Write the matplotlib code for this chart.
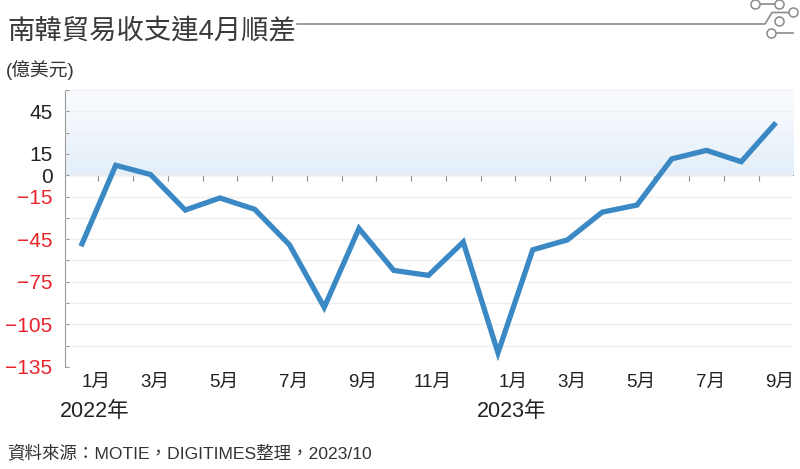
import numpy as np
import matplotlib
matplotlib.use("Agg")
import matplotlib.pyplot as plt
from matplotlib.colors import LinearSegmentedColormap
from matplotlib.lines import Line2D
from matplotlib.transforms import blended_transform_factory

plt.rcParams['font.family'] = ['Liberation Sans', 'Noto Sans CJK TC', 'DejaVu Sans']

# ── 資料 (億美元), 2022/01 ~ 2023/09 ──
months = ['2022-01', '2022-02', '2022-03', '2022-04', '2022-05', '2022-06', '2022-07',
          '2022-08', '2022-09', '2022-10', '2022-11', '2022-12',
          '2023-01', '2023-02', '2023-03', '2023-04', '2023-05', '2023-06', '2023-07',
          '2023-08', '2023-09']
balance = [-50, 7, 0.5, -24.5, -16, -24, -49, -93, -37.5, -67, -70.5, -47,
           -125, -52.5, -45.5, -26, -21, 11.5, 17.5, 9.5, 37]

month_labels = ['1月', '3月', '5月', '7月', '9月', '11月', '1月', '3月', '5月', '7月', '9月']
month_label_idx = [0, 2, 4, 6, 8, 10, 12, 14, 16, 18, 20]
year_labels = ['2022年', '2023年']
year_label_idx = [0, 12]

ytick_labeled = [45, 15, 0, -15, -45, -75, -105, -135]
ygrid = np.arange(-135, 61, 15)

W, H = 800, 469
fig = plt.figure(figsize=(W / 100, H / 100), dpi=100)


def px(x, y):
    return x / W, 1 - y / H


ax = fig.add_axes([65 / W, 1 - 367 / H, (793 - 65) / W, (367 - 90) / H])
x = np.arange(len(months))
xlim = (-0.46, len(months) - 0.51)
ylim = (-135, 60)

# 正值區漸層底色
cmap = LinearSegmentedColormap.from_list('bg', ['#e4eff9', '#fafcff'])
grad = np.linspace(0, 1, 256).reshape(-1, 1)
ax.imshow(grad, extent=(xlim[0], xlim[1], 0, 60), origin='lower', aspect='auto',
          cmap=cmap, zorder=0)

ax.plot(x, balance, color='#3a88c4', lw=3.8, solid_joinstyle='miter',
        solid_capstyle='butt', zorder=3)

ax.set_xlim(*xlim)
ax.set_ylim(*ylim)

# y 軸
ax.set_yticks(ygrid)
ax.set_yticklabels([(f"\u2212{abs(v)}" if v < 0 else str(v)) if v in ytick_labeled else ''
                    for v in ygrid])
for lab, v in zip(ax.get_yticklabels(), ygrid):
    lab.set_color('#e8232b' if v < 0 else '#222222')
ax.tick_params(axis='y', direction='in', length=3, color='#999999', labelsize=15, pad=9)
ax.yaxis.grid(True, color='#efefef', lw=1, zorder=1)
ax.set_axisbelow(False)
for gl in ax.yaxis.get_gridlines():
    gl.set_zorder(1)

# x 軸 (零線)
ax.spines['top'].set_visible(False)
ax.spines['right'].set_visible(False)
ax.spines['bottom'].set_position(('data', 0))
ax.spines['bottom'].set_color('#8c8c8c')
ax.spines['bottom'].set_zorder(2)
ax.spines['left'].set_color('#999999')
ax.set_xticks(np.arange(0.5, len(months) - 0.5, 1))
ax.set_xticklabels([])
ax.tick_params(axis='x', direction='out', length=4, color='#8c8c8c')

tr = blended_transform_factory(ax.transData, fig.transFigure)
for lab, i in zip(month_labels, month_label_idx):
    dx = 0.45 if lab == '1月' else 0.12
    ax.text(i + dx, 1 - 382 / H, lab, transform=tr, ha='center', va='center',
            fontsize=13.5, color='#222222')
for lab, i in zip(year_labels, year_label_idx):
    ax.text(i + 0.4, 1 - 411 / H, lab, transform=tr, ha='center', va='center',
            fontsize=15.5, color='#222222')

# 標題與文字
fig.text(*px(7, 32), '南韓貿易收支連4月順差', fontsize=19.7, va='center', ha='left',
         color='#3a3a3a')
fig.text(*px(6, 70), '(億美元)', fontsize=13.5, va='center', ha='left', color='#333333')
fig.text(*px(7, 453), '資料來源：MOTIE，DIGITIMES整理，2023/10', fontsize=12.6,
         va='center', ha='left', color='#333333')

# 標題右側線條裝飾
deco_c = '#8a8a8a'
segs = [[(297, 24), (765, 24), (772, 12.5), (789, 12.5)],
        [(758, 4), (776, 4)],
        [(774.5, 33), (793, 33)]]
for s in segs:
    xs, ys = zip(*[px(a, b) for a, b in s])
    fig.add_artist(Line2D(xs, ys, color=deco_c, lw=1.2, transform=fig.transFigure))
for cx, cy in [(792.5, 12.5), (755, 4), (779, 4), (779, 21), (771, 33)]:
    fx, fy = px(cx, cy)
    fig.add_artist(Line2D([fx], [fy], marker='o', ms=6.5, mfc='white', mec=deco_c,
                          mew=1.1, transform=fig.transFigure))

fig.savefig('out.png', dpi=100)
